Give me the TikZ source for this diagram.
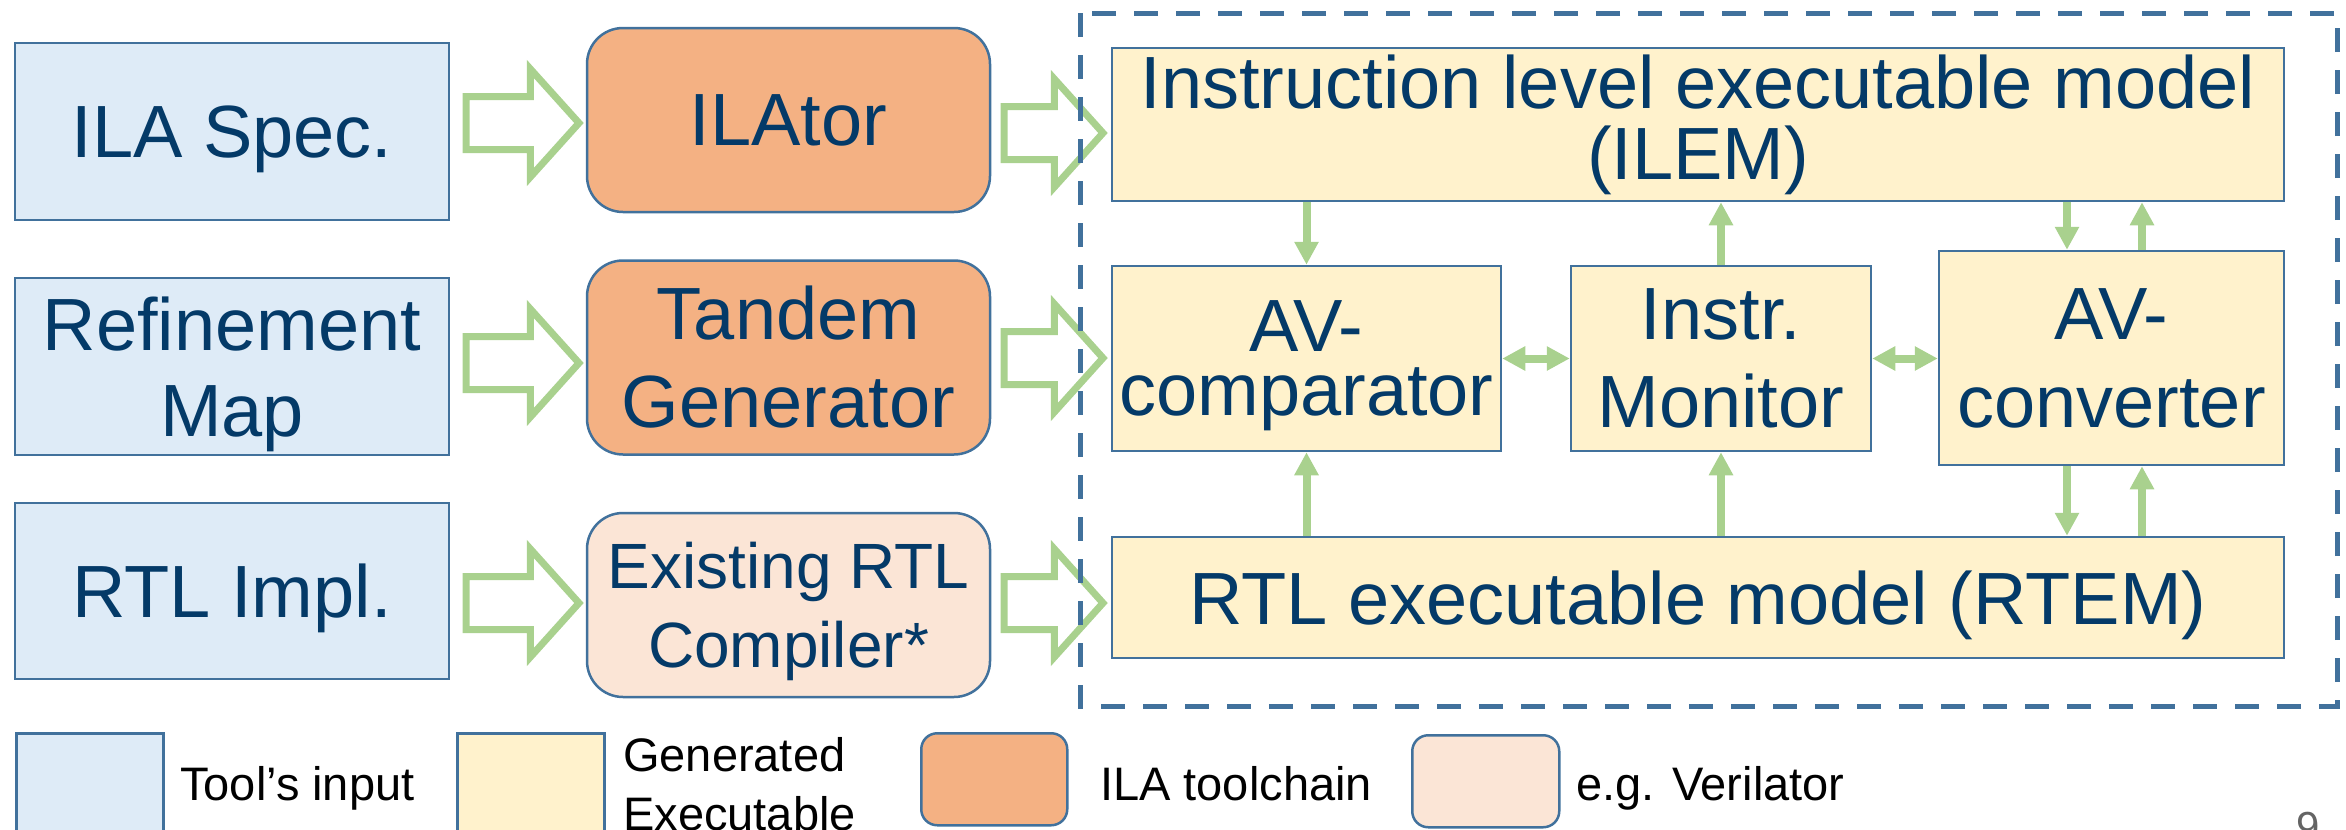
\documentclass[tikz,border=0pt]{standalone}
\usepackage{fontspec}
\setmainfont{Liberation Sans}
\usetikzlibrary{arrows.meta,shapes.arrows}
\definecolor{inblue}{RGB}{222,235,247}
\definecolor{genyellow}{RGB}{255,242,204}
\definecolor{toolorange}{RGB}{244,177,131}
\definecolor{verpeach}{RGB}{251,229,214}
\definecolor{edgeblue}{RGB}{65,113,156}
\definecolor{textnavy}{RGB}{4,58,104}
\definecolor{flowgreen}{RGB}{169,209,142}
\definecolor{pagegray}{RGB}{100,100,100}

\begin{document}
\begin{tikzpicture}[x=1pt,y=-1pt,
  box/.style={draw=edgeblue,line width=2.5pt,text=textnavy,align=center,inner sep=0pt,font=\fontsize{74}{88}\selectfont},
  inbox/.style={box,fill=inblue,minimum width=434pt,text depth=0pt},
  genbox/.style={box,fill=genyellow},
  toolbox/.style={box,fill=toolorange,rounded corners=36pt,minimum width=403pt},
  compbox/.style={box,fill=verpeach,rounded corners=36pt,minimum width=403pt,text depth=0pt,font=\fontsize{64}{79}\selectfont},
  bigarrow/.style={single arrow,draw=flowgreen,fill=white,line width=7pt,inner xsep=0pt,inner ysep=23pt,
    single arrow head extend=27.5pt,single arrow tip angle=96,minimum height=#1,anchor=tail},
  >={Triangle[width=23pt,length=23pt]},
  flow/.style={draw=flowgreen,line width=8pt,->},
  flowboth/.style={draw=flowgreen,line width=8pt,<->},
  legbox/.style={draw=edgeblue,line width=2.5pt,anchor=north west,minimum width=147pt},
  legtext/.style={font=\fontsize{47}{59}\selectfont,inner sep=0pt,align=left}]
  \useasboundingbox (0,0) rectangle (2346,830);

  \node[inbox,minimum height=177pt] (spec) at (232,131.5) {ILA Spec.};
  \node[inbox,minimum height=177pt,font=\fontsize{74}{86}\selectfont] (refmap) at (232,366.5) {Refinement\\Map};
  \node[inbox,minimum height=176pt] (rtlimpl) at (232,591) {RTL Impl.};

  \node[toolbox,minimum height=184pt] (ilator) at (788.5,120) {ILAtor};
  \node[toolbox,minimum height=194pt] (tandem) at (788.5,357.5) {Tandem\\Generator};
  \node[compbox,minimum height=184pt] (rtlcomp) at (788.5,605) {Existing RTL\\Compiler*};

  \node[genbox,minimum width=1172pt,minimum height=153pt,font=\fontsize{74}{71}\selectfont] (ilem) at (1698,124.5)
    {Instruction level executable model\\(ILEM)};
  \node[genbox,minimum width=389pt,minimum height=185pt,text depth=0pt,font=\fontsize{74}{64}\selectfont] (avcomp) at (1306.5,358.5) {AV-\\comparator};
  \node[genbox,minimum width=300pt,minimum height=185pt] (monitor) at (1721,358.5) {Instr.\\Monitor};
  \node[genbox,minimum width=345pt,minimum height=214pt] (avconv) at (2111.5,358) {AV-\\converter};
  \node[genbox,minimum width=1172pt,minimum height=121pt,text depth=0pt] (rtem) at (1698,597.5) {RTL executable model (RTEM)};

  \node[bigarrow=113pt] (in1) at (462.5,123) {};
  \node[bigarrow=113pt] (in2) at (462.5,363) {};
  \node[bigarrow=113pt] (in3) at (462.5,603) {};
  \node[bigarrow=99pt] (out1) at (1000.5,133) {};
  \node[bigarrow=99pt] (out2) at (1000.5,358) {};
  \node[bigarrow=99pt] (out3) at (1000.5,603) {};

  \draw[edgeblue,line width=5pt,dash pattern=on 24pt off 18pt] (1080,13) rectangle (2337,706);

  \coordinate (cvdown) at ([xshift=-44.5pt]avconv.north);
  \coordinate (cvup) at ([xshift=30.5pt]avconv.north);
  \coordinate (cbdown) at ([xshift=-44.5pt]avconv.south);
  \coordinate (cbup) at ([xshift=30.5pt]avconv.south);
  \draw[flow] (ilem.south -| avcomp.north) -- (avcomp.north);
  \draw[flow] (monitor.north) -- (monitor.north |- ilem.south);
  \draw[flow] (cvdown |- ilem.south) -- (cvdown);
  \draw[flow] (cvup) -- (cvup |- ilem.south);
  \draw[flow] (rtem.north -| avcomp.south) -- (avcomp.south);
  \draw[flow] (rtem.north -| monitor.south) -- (monitor.south);
  \draw[flow] (cbdown) -- (cbdown |- rtem.north);
  \draw[flow] (cbup |- rtem.north) -- (cbup);
  \draw[flowboth] (avcomp.east) -- (avcomp.east -| monitor.west);
  \draw[flowboth] (monitor.east) -- (monitor.east -| avconv.west);

  \node[legbox,fill=inblue,minimum height=120pt] (leginput) at (15,732) {};
  \node[legtext,anchor=base west] (leginputtext) at (180,800) {Tool’s input};
  \node[legbox,fill=genyellow,minimum height=120pt] (leggen) at (456,732) {};
  \node[legtext,anchor=north west] (leggentext) at (623,737.4) {Generated\\Executable};
  \node[legbox,fill=toolorange,rounded corners=16pt,minimum width=146pt,minimum height=92pt] (legtool) at (920,732) {};
  \node[legtext,anchor=base west] (legtooltext) at (1100,800) {ILA toolchain};
  \node[legbox,fill=verpeach,rounded corners=16pt,minimum height=92pt] (legver) at (1411,734) {};
  \node[legtext,anchor=base west] (legvertext) at (1576,800) {e.g. Verilator};

  \node[font=\fontsize{42}{50}\selectfont,text=pagegray,anchor=north,inner sep=0pt] (pagenum) at (2308,812) {9};
\end{tikzpicture}
\end{document}
